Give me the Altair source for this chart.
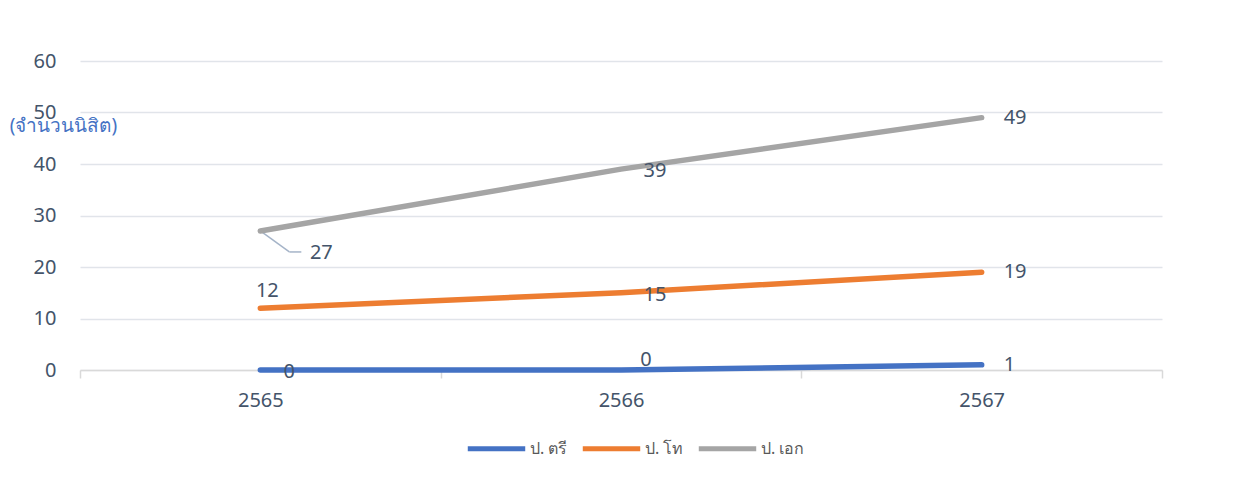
import altair as alt
import pandas as pd

years = ["2565", "2566", "2567"]
series_names = ["ป. ตรี", "ป. โท", "ป. เอก"]
bachelor = [0, 0, 1]
master = [12, 15, 19]
doctor = [27, 39, 49]
colors = ["#4472C4", "#ED7D31", "#A5A5A5"]
y_ticks = [0, 10, 20, 30, 40, 50, 60]

rows = []
for name, vals in zip(series_names, [bachelor, master, doctor]):
    for yr, v in zip(years, vals):
        rows.append({"year": yr, "series": name, "value": v})
df = pd.DataFrame(rows)

FONT = "Noto Sans"
TXT = "#44546A"

x = alt.X("year:N", title=None, sort=years,
          scale=alt.Scale(paddingInner=0, paddingOuter=0),
          axis=alt.Axis(labelAngle=0, labelAlign="center", labelFontSize=20, labelColor=TXT,
                        labelFont=FONT, grid=False,
                        domainColor="#D9D9D9", tickColor="#D9D9D9", tickSize=8,
                        tickBand="extent", labelPadding=22, domainWidth=1.5, tickWidth=1.5))
y = alt.Y("value:Q",
          scale=alt.Scale(domain=[0, 60], nice=False),
          axis=alt.Axis(values=y_ticks, title="(จำนวนนิสิต)", titleAngle=0,
                        titleColor="#4472C4", titleFontSize=19, titleFontWeight="normal",
                        titleFont=FONT, titleX=-17, titleY=64, titleAlign="center",
                        titleBaseline="middle",
                        labelFontSize=20, labelColor=TXT, labelFont=FONT, labelPadding=24,
                        ticks=False, domain=False, gridColor="#E1E4EA", gridWidth=1.5))
color = alt.Color("series:N", sort=series_names,
                  scale=alt.Scale(domain=series_names, range=colors),
                  legend=alt.Legend(title=None, orient="none", direction="horizontal",
                                    legendX=385, legendY=356, symbolType="stroke",
                                    symbolSize=3300, symbolStrokeWidth=5,
                                    labelFontSize=16, labelColor="#595959", labelFont=FONT,
                                    columnPadding=4, labelOffset=2))

base = alt.Chart(df)

lines = base.mark_line(strokeWidth=5.5, strokeCap="round").encode(
    x=x, y=y, color=color, order=alt.Order("year:N"))

def lab(filt, **kw):
    return base.transform_filter(filt).mark_text(
        fontSize=20, font=FONT, color=TXT, baseline="middle", **kw
    ).encode(x=alt.X("year:N", sort=years), y="value:Q", text="value:Q")

t1 = lab("datum.year == '2567'", dx=22, align="left")
t2 = lab("datum.year == '2566' && datum.series != 'ป. ตรี'", dx=34, dy=2)
t3 = lab("datum.year == '2566' && datum.series == 'ป. ตรี'", dx=25, dy=-10)
t4 = lab("datum.year == '2565' && datum.series == 'ป. เอก'", dx=61, dy=22)
t5 = lab("datum.year == '2565' && datum.series == 'ป. โท'", dx=7, dy=-17)
t6 = lab("datum.year == '2565' && datum.series == 'ป. ตรี'", dx=29, dy=2)

leader_src = base.transform_filter("datum.year == '2565' && datum.series == 'ป. เอก'")
leader1 = leader_src.mark_rule(color="#A5B4C8", strokeWidth=1.5, x2Offset=29, y2Offset=21).encode(
    x=alt.X("year:N", sort=years), x2="year:N", y="value:Q", y2="value:Q")
leader2 = leader_src.mark_rule(color="#A5B4C8", strokeWidth=1.5, xOffset=29, yOffset=21,
                               x2Offset=41, y2Offset=21).encode(
    x=alt.X("year:N", sort=years), x2="year:N", y="value:Q", y2="value:Q")

chart = alt.layer(leader1, leader2, lines, t1, t2, t3, t4, t5, t6).properties(
    width=1082, height=309,
    background="white",
    padding={"left": 72, "top": 53, "right": 80, "bottom": 100},
    autosize=alt.AutoSizeParams(type="none"),
).configure_view(stroke=None, strokeWidth=0)

chart.save("out.html", embed_options={"renderer": "svg", "actions": False})
